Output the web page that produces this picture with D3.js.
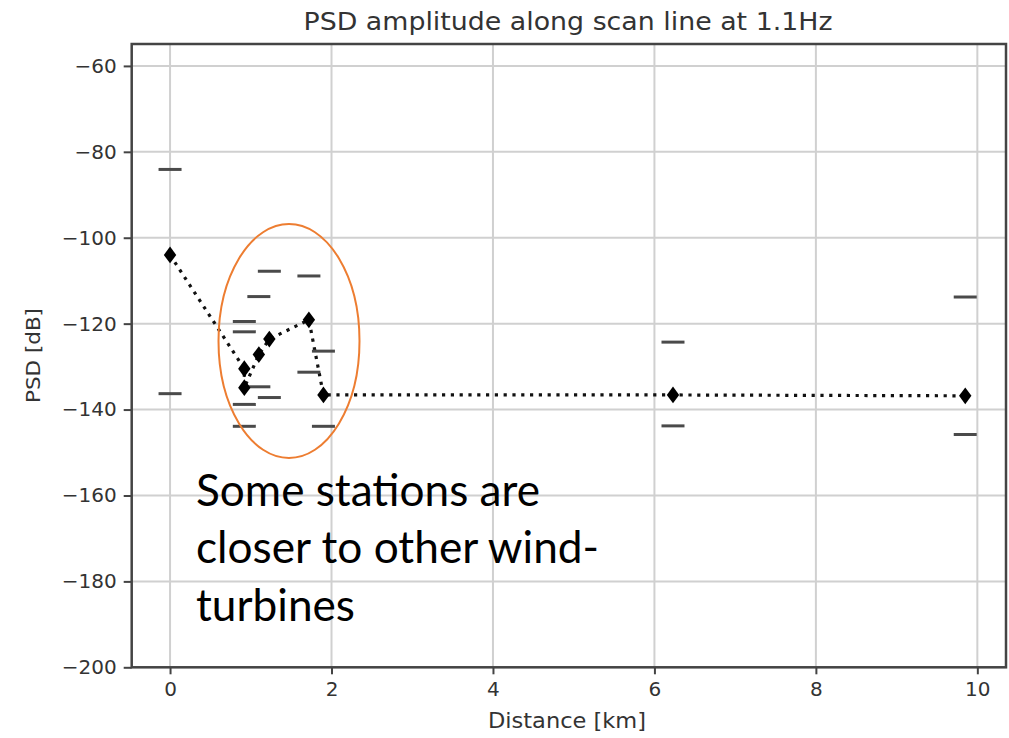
<!DOCTYPE html>
<html>
<head>
<meta charset="utf-8">
<script src="https://cdn.jsdelivr.net/npm/d3@7"></script>
<style>
  html, body { margin: 0; padding: 0; background: #fff; }
  svg { display: block; }
</style>
</head>
<body>
<svg id="chart" width="1009" height="738"></svg>
<script>
// ---- data ----
const distanceKm = [0, 0.92, 0.92, 1.10, 1.23, 1.72, 1.90, 6.23, 9.85];
const meanPSD    = [-104.0, -130.5, -134.9, -127.2, -123.6, -119.1, -136.6, -136.6, -136.8];
const upperPSD   = [-84.1, -119.5, -121.9, -113.7, -107.8, -108.9, -126.4, -124.3, -113.8];
const lowerPSD   = [-136.3, -138.8, -143.9, -134.7, -137.2, -131.3, -143.9, -143.8, -145.8];
const xTicks = [0, 2, 4, 6, 8, 10];
const yTicks = [-60, -80, -100, -120, -140, -160, -180, -200];
const titleText = "PSD amplitude along scan line at 1.1Hz";
const xLabel = "Distance [km]";
const yLabel = "PSD [dB]";
const noteLines = ["Some stations are", "closer to other wind-", "turbines"];

// ---- layout ----
const svg = d3.select("#chart");
const L = 131.7, R = 1006, T = 44, B = 667.3;
const x = d3.scaleLinear().domain([-0.475, 10.355]).range([L, R]);
const y = d3.scaleLinear().domain([-200, -54.9]).range([B, T]);
const fmt = v => String(v).replace("-", "\u2212");
const textColor = "#333";
const mplFont = "'DejaVu Sans', sans-serif";

// grid
const grid = svg.append("g");
grid.selectAll("line.gx").data(xTicks).join("line")
  .attr("x1", d => x(d)).attr("x2", d => x(d)).attr("y1", T).attr("y2", B)
  .attr("stroke", "#d0d0d0").attr("stroke-width", 2);
grid.selectAll("line.gy").data(yTicks).join("line")
  .attr("y1", d => y(d)).attr("y2", d => y(d)).attr("x1", L).attr("x2", R)
  .attr("stroke", "#d0d0d0").attr("stroke-width", 2);

// axes
const xAxis = d3.axisBottom(x).tickValues(xTicks).tickFormat(fmt).tickSize(7).tickPadding(8);
const yAxis = d3.axisLeft(y).tickValues(yTicks).tickFormat(fmt).tickSize(8).tickPadding(7);
const gx = svg.append("g").attr("transform", `translate(0,${B})`).call(xAxis);
const gy = svg.append("g").attr("transform", `translate(${L},0)`).call(yAxis);
[gx, gy].forEach(g => {
  g.select(".domain").remove();
  g.selectAll(".tick line").attr("stroke", "#444").attr("stroke-width", 2);
  g.selectAll(".tick text").attr("fill", textColor)
    .style("font-family", mplFont).style("font-size", "20px");
});

// frame
svg.append("rect").attr("x", L).attr("y", T).attr("width", R - L).attr("height", B - T)
  .attr("fill", "none").attr("stroke", "#444").attr("stroke-width", 2.5);

// dotted mean line
const idx = d3.range(distanceKm.length);
svg.append("path")
  .attr("d", d3.line().x(i => x(distanceKm[i])).y(i => y(meanPSD[i]))(idx))
  .attr("fill", "none").attr("stroke", "#111").attr("stroke-width", 3.2)
  .attr("stroke-dasharray", "3.2 5.6");

// min/max dashes
const dashHalf = 11.5;
const dashes = idx.flatMap(i => [[distanceKm[i], upperPSD[i]], [distanceKm[i], lowerPSD[i]]]);
svg.append("g").selectAll("line").data(dashes).join("line")
  .attr("x1", d => x(d[0]) - dashHalf).attr("x2", d => x(d[0]) + dashHalf)
  .attr("y1", d => y(d[1])).attr("y2", d => y(d[1]))
  .attr("stroke", "#4a4a4a").attr("stroke-width", 3);

// diamonds
const dw = 6.2, dh = 8.4;
svg.append("g").selectAll("path").data(idx).join("path")
  .attr("transform", i => `translate(${x(distanceKm[i])},${y(meanPSD[i])})`)
  .attr("d", `M0,${-dh}L${dw},0L0,${dh}L${-dw},0Z`)
  .attr("fill", "#000");

// title and axis labels
svg.append("text").attr("x", 568).attr("y", 30).attr("text-anchor", "middle")
  .attr("fill", textColor).style("font-family", mplFont).style("font-size", "25px")
  .attr("textLength", 529).attr("lengthAdjust", "spacingAndGlyphs")
  .text(titleText);
svg.append("text").attr("x", 567).attr("y", 728).attr("text-anchor", "middle")
  .attr("fill", textColor).style("font-family", mplFont).style("font-size", "21px")
  .attr("textLength", 158).attr("lengthAdjust", "spacingAndGlyphs")
  .text(xLabel);
svg.append("text").attr("transform", "translate(40,355.5) rotate(-90)").attr("text-anchor", "middle")
  .attr("fill", textColor).style("font-family", mplFont).style("font-size", "20px")
  .attr("textLength", 95).attr("lengthAdjust", "spacingAndGlyphs")
  .text(yLabel);

// annotation ellipse and note
svg.append("ellipse").attr("cx", 289).attr("cy", 341).attr("rx", 70.5).attr("ry", 117)
  .attr("fill", "none").attr("stroke", "#ED7D31").attr("stroke-width", 2);
const noteWidths = [344, 403, 159];
svg.append("g").selectAll("text").data(noteLines).join("text")
  .attr("x", 196).attr("y", (d, i) => 505.7 + i * 57.7)
  .attr("fill", "#000").style("font-family", "Lato, 'Open Sans', sans-serif").style("font-size", "44px")
  .attr("textLength", (d, i) => noteWidths[i]).attr("lengthAdjust", "spacingAndGlyphs")
  .text(d => d);
</script>
</body>
</html>
